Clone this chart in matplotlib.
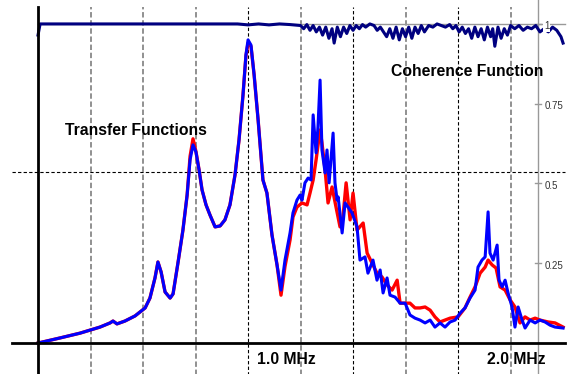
import matplotlib
matplotlib.use("Agg")
import matplotlib.pyplot as plt

plt.rcParams['font.family'] = ['Liberation Sans', 'DejaVu Sans']

# frequency in MHz, transfer function magnitude (relative, right-axis units)
freq_blue = [0.0, 0.105, 0.2, 0.295, 0.343, 0.357, 0.376, 0.414, 0.462, 0.51, 0.533, 0.557, 0.571,
             0.586, 0.605, 0.629, 0.643, 0.667, 0.69, 0.71, 0.724, 0.738, 0.752, 0.767, 0.781, 0.8,
             0.819, 0.843, 0.867, 0.89, 0.914, 0.938, 0.957, 0.976, 0.99, 1.0, 1.014, 1.029, 1.048,
             1.071, 1.09, 1.114, 1.138, 1.157, 1.176, 1.2, 1.214, 1.233, 1.248, 1.257, 1.271, 1.286,
             1.3, 1.31, 1.324, 1.333, 1.343, 1.352, 1.367, 1.376, 1.386, 1.405, 1.414, 1.424, 1.429,
             1.448, 1.462, 1.476, 1.495, 1.519, 1.533, 1.557, 1.571, 1.595, 1.614, 1.629, 1.643, 1.662,
             1.676, 1.7, 1.724, 1.748, 1.771, 1.795, 1.819, 1.843, 1.867, 1.89, 1.914, 1.938, 1.962,
             1.986, 2.01, 2.033, 2.057, 2.081, 2.095, 2.114, 2.129, 2.143, 2.152, 2.167, 2.186, 2.195,
             2.21, 2.224, 2.238, 2.257, 2.271, 2.286, 2.305, 2.319, 2.343, 2.367, 2.39, 2.414, 2.438,
             2.462, 2.5]
tf_blue = [0.0, 0.016, 0.031, 0.05, 0.063, 0.069, 0.06, 0.069, 0.085, 0.11, 0.141, 0.204, 0.254,
           0.223, 0.16, 0.141, 0.154, 0.254, 0.354, 0.464, 0.574, 0.621, 0.599, 0.542, 0.48, 0.433,
           0.401, 0.364, 0.367, 0.386, 0.433, 0.527, 0.636, 0.777, 0.903, 0.95, 0.934, 0.84, 0.699,
           0.511, 0.47, 0.339, 0.245, 0.166, 0.26, 0.345, 0.408, 0.448, 0.464, 0.448, 0.502, 0.517,
           0.511, 0.715, 0.596, 0.677, 0.824, 0.605, 0.533, 0.605, 0.502, 0.658, 0.502, 0.448, 0.458,
           0.345, 0.439, 0.426, 0.408, 0.364, 0.26, 0.27, 0.219, 0.26, 0.197, 0.229, 0.157, 0.204,
           0.15, 0.144, 0.125, 0.125, 0.088, 0.078, 0.072, 0.063, 0.072, 0.05, 0.063, 0.05, 0.066,
           0.072, 0.094, 0.11, 0.141, 0.166, 0.238, 0.26, 0.27, 0.411, 0.282, 0.26, 0.307, 0.197,
           0.176, 0.197, 0.157, 0.113, 0.05, 0.113, 0.072, 0.047, 0.072, 0.063, 0.072, 0.066, 0.056,
           0.05, 0.047]

freq_red = [0.0, 0.105, 0.2, 0.295, 0.343, 0.357, 0.376, 0.414, 0.462, 0.51, 0.533, 0.557, 0.571,
            0.586, 0.605, 0.629, 0.643, 0.667, 0.69, 0.71, 0.724, 0.738, 0.752, 0.767, 0.781, 0.8,
            0.819, 0.843, 0.867, 0.89, 0.914, 0.938, 0.957, 0.976, 0.99, 1.0, 1.014, 1.029, 1.048,
            1.071, 1.09, 1.114, 1.138, 1.157, 1.176, 1.2, 1.214, 1.233, 1.257, 1.281, 1.295, 1.31,
            1.324, 1.343, 1.352, 1.367, 1.381, 1.4, 1.419, 1.438, 1.452, 1.467, 1.486, 1.5, 1.519,
            1.548, 1.567, 1.59, 1.614, 1.638, 1.662, 1.686, 1.71, 1.724, 1.771, 1.795, 1.819, 1.843,
            1.867, 1.89, 1.914, 1.938, 1.962, 2.0, 2.033, 2.057, 2.081, 2.105, 2.129, 2.143, 2.162,
            2.181, 2.2, 2.224, 2.248, 2.271, 2.295, 2.319, 2.343, 2.367, 2.39, 2.429, 2.462, 2.5]
tf_red = [0.0, 0.016, 0.031, 0.05, 0.063, 0.069, 0.06, 0.069, 0.085, 0.11, 0.141, 0.204, 0.254,
          0.223, 0.16, 0.141, 0.154, 0.254, 0.354, 0.464, 0.585, 0.64, 0.6, 0.542, 0.48, 0.433,
          0.401, 0.364, 0.367, 0.386, 0.433, 0.527, 0.636, 0.777, 0.9, 0.94, 0.93, 0.84, 0.699,
          0.511, 0.47, 0.339, 0.245, 0.15, 0.24, 0.323, 0.395, 0.426, 0.439, 0.433, 0.47, 0.511,
          0.574, 0.668, 0.627, 0.542, 0.439, 0.489, 0.426, 0.364, 0.395, 0.502, 0.386, 0.47, 0.354,
          0.376, 0.282, 0.251, 0.219, 0.207, 0.182, 0.166, 0.197, 0.125, 0.125, 0.11, 0.11, 0.113,
          0.103, 0.082, 0.066, 0.072, 0.078, 0.082, 0.11, 0.144, 0.176, 0.219, 0.238, 0.26, 0.245,
          0.235, 0.176, 0.166, 0.135, 0.113, 0.063, 0.082, 0.072, 0.078, 0.072, 0.066, 0.063, 0.05]

freq_coh = [0.0, 0.01, 0.95, 1.0, 1.05, 1.1, 1.15, 1.2, 1.25, 1.265, 1.28, 1.295, 1.31, 1.325, 1.34,
            1.355, 1.37, 1.385, 1.4, 1.41, 1.425, 1.44, 1.455, 1.47, 1.485, 1.5, 1.515, 1.53, 1.545,
            1.56, 1.58, 1.6, 1.615, 1.63, 1.645, 1.66, 1.675, 1.69, 1.705, 1.72, 1.735, 1.75, 1.765,
            1.78, 1.795, 1.81, 1.825, 1.84, 1.86, 1.88, 1.9, 1.92, 1.94, 1.96, 1.975, 1.99, 2.005,
            2.02, 2.035, 2.05, 2.065, 2.08, 2.095, 2.11, 2.125, 2.14, 2.155, 2.165, 2.175, 2.19,
            2.205, 2.22, 2.235, 2.25, 2.27, 2.29, 2.31, 2.33, 2.35, 2.37, 2.39, 2.41, 2.43, 2.45,
            2.47, 2.49, 2.5]
coherence = [0.965, 1.0, 1.0, 0.997, 1.0, 0.997, 1.0, 0.998, 0.995, 0.985, 0.998, 0.98, 0.995,
             0.975, 0.99, 0.965, 0.99, 0.955, 0.985, 0.94, 0.99, 0.96, 0.99, 0.97, 0.995, 0.98,
             0.995, 0.985, 0.998, 0.99, 1.0, 0.995, 0.98, 0.99, 0.975, 0.96, 0.985, 0.955, 0.99,
             0.95, 0.985, 0.96, 0.99, 0.955, 0.99, 0.97, 0.995, 0.975, 0.995, 0.99, 1.0, 0.995,
             0.99, 0.998, 0.985, 0.995, 0.975, 0.99, 0.97, 0.985, 0.955, 0.99, 0.96, 0.985, 0.95,
             0.99, 0.96, 0.985, 0.93, 0.99, 0.955, 0.985, 0.965, 0.995, 0.985, 0.995, 0.98, 0.99,
             0.985, 0.995, 0.975, 0.985, 0.975, 0.99, 0.98, 0.96, 0.94]

right_ticks = [1.0, 0.75, 0.5, 0.25]
right_labels = ['1', '0.75', '0.5', '0.25']
grid_freqs = [0.25, 0.5, 0.75, 1.0, 1.25, 1.5, 1.75, 2.0, 2.25]
major_freqs = [1.0, 1.5, 2.0]

fig = plt.figure(figsize=(5.7, 3.74), dpi=100)
ax = fig.add_axes([0, 0, 1, 1])
ax.set_xlim(-0.181, 2.533)
ax.set_ylim(-0.097, 1.075)
ax.axis('off')

# vertical grid
for f in grid_freqs:
    if f in major_freqs:
        ax.plot([f, f], [-0.1, 1.053], color='black', lw=0.8, ls=(0, (3, 2)), zorder=1)
    else:
        ax.plot([f, f], [-0.1, 1.053], color='#888888', lw=1.3, ls=(0, (3, 1.5)), zorder=1)

# horizontal reference lines
ax.plot([-0.124, 2.51], [0.536, 0.536], color='black', lw=0.8, ls=(0, (3, 2)), zorder=1)
ax.plot([0, 2.51], [1.0, 1.0], color='#999999', lw=1.0, zorder=1)

# right (coherence) axis
ax.plot([2.381, 2.381], [-0.1, 1.08], color='#999999', lw=1.0, zorder=1)
for t, lab in zip(right_ticks, right_labels):
    ax.plot([2.367, 2.395], [t, t], color='#999999', lw=1.0, zorder=1)
    ax.text(2.41, t - 0.008, lab, fontsize=7, color='#333333', ha='left', va='center', zorder=6,
            bbox=dict(facecolor='white', edgecolor='none', pad=0.5) if t == 1.0 else None)

# main axes
ax.plot([0, 0], [-0.1, 1.053], color='black', lw=2.0, zorder=5)
ax.plot([-0.124, 2.51], [0, 0], color='black', lw=2.0, zorder=5)

ax.plot(freq_coh, coherence, color='#000080', lw=2.2, zorder=3)
ax.plot(freq_red, tf_red, color='#ff0000', lw=2.4, zorder=3)
ax.plot(freq_blue, tf_blue, color='#0000ff', lw=2.2, zorder=4)

ax.text(1.181, -0.053, '1.0 MHz', fontsize=11.3, fontweight='bold', ha='center', va='center')
ax.text(2.276, -0.053, '2.0 MHz', fontsize=11.3, fontweight='bold', ha='center', va='center')
ax.text(0.129, 0.667, 'Transfer Functions', fontsize=11.3, fontweight='bold', ha='left', va='center')
ax.text(1.681, 0.85, 'Coherence Function', fontsize=11.3, fontweight='bold', ha='left', va='center')

fig.savefig('out.png', dpi=100, facecolor='white')
